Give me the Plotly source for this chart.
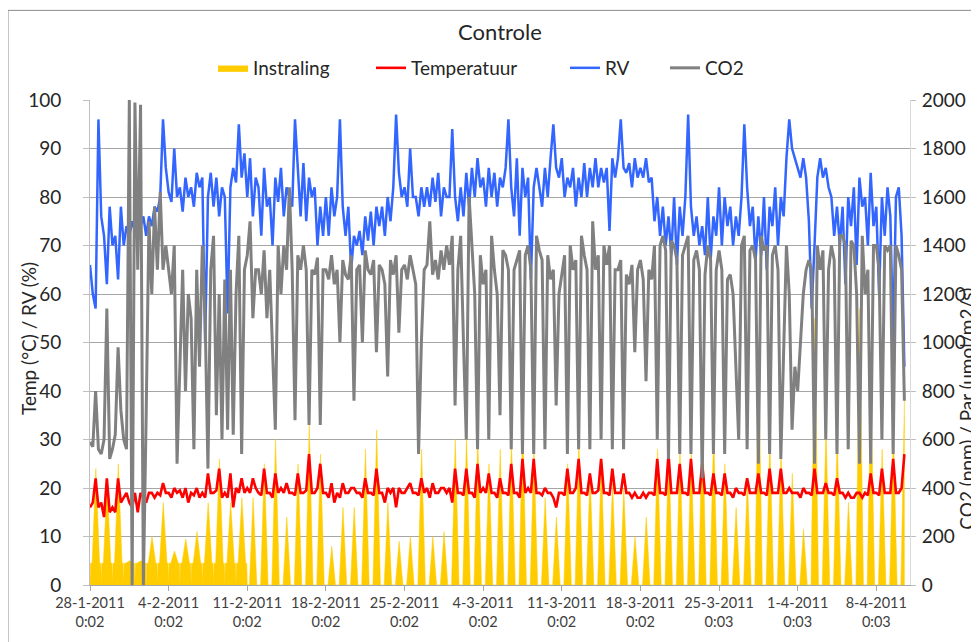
import pandas as pd
import plotly.graph_objects as go

# sampling: 4 readings per day (0:02, 6:02, 12:02, 18:02), last day stops at noon
start = pd.Timestamp("2011-01-28 00:02")
n_days = 73

# RV (%) one row per week, 4 values per day
rv = [
    66, 60, 57, 96,  76, 72, 62, 78,  70, 72, 63, 78,  70, 74, 72, 75,  73, 71, 74, 76,  72, 76, 74, 78,  77, 80, 96, 86,
    81, 79, 90, 80,  82, 77, 84, 80,  82, 78, 85, 82,  84, 50, 80, 85,  78, 84, 76, 82,  80, 56, 82, 86,  83, 95, 84, 89,
    80, 88, 76, 84,  82, 72, 86, 78,  80, 70, 84, 79,  86, 76, 82, 80,  78, 96, 85, 76,  87, 75, 84, 80,  82, 70, 78, 72,
    80, 72, 82, 76,  80, 96, 78, 72,  78, 65, 72, 70,  73, 68, 76, 71,  77, 70, 78, 74,  78, 72, 80, 75,  82, 97, 85, 80,
    82, 78, 90, 80,  80, 76, 82, 78,  82, 78, 84, 79,  85, 76, 82, 80,  80, 94, 80, 75,  82, 76, 85, 78,  86, 80, 88, 82,
    84, 78, 86, 80,  85, 78, 84, 82,  86, 96, 82, 76,  88, 72, 86, 80,  84, 63, 82, 86,  82, 78, 86, 80,  88, 95, 86, 84,
    88, 80, 84, 82,  86, 78, 84, 80,  87, 80, 86, 82,  88, 82, 86, 83,  86, 73, 88, 84,  88, 96, 86, 85,  87, 82, 88, 84,
    86, 84, 88, 83,  84, 75, 80, 72,  78, 70, 76, 68,  80, 66, 78, 72,  80, 97, 78, 72,  76, 70, 74, 68,  80, 67, 76, 72,
    82, 70, 80, 74,  78, 70, 76, 72,  80, 95, 82, 74,  78, 67, 76, 68,  80, 65, 78, 74,  82, 70, 80, 76,  88, 96, 90, 88,
    86, 84, 88, 84,  75, 57, 70, 84,  88, 84, 86, 82,  80, 72, 78, 70,  78, 62, 80, 74,  82, 66, 84, 78,  80, 70, 85, 74,
    78, 60, 80, 72,  82, 76, 50, 80,  82, 72, 45,
]

# Temperatuur (°C)
temp = [
    16, 17, 22, 16,  17, 14, 22, 15,  16, 15, 22, 17,  18, 19, 17, 16,  19, 15, 19, 18,  17, 19, 19, 18,  19, 18.5, 21, 19,
    19, 18, 20, 19,  19.5, 18, 20, 17,  19, 18.5, 20, 18,  19, 18, 23, 19,  19, 19.5, 24, 18,  19, 18, 23, 16,  20, 19, 22, 19,
    20, 19, 22, 20,  19, 18.5, 24, 19,  19, 18, 23, 19,  20, 19, 21, 19,  19, 18.5, 23, 19,  19, 19.5, 27, 19,  19, 20, 25, 19,
    19, 18, 21, 17,  19, 18, 21, 19,  19, 20, 20, 19,  19, 18, 22, 19,  19, 18.5, 24, 19,  19, 17, 20, 19,  20, 16, 20, 19,
    19, 20, 21, 19,  19, 18.5, 22, 19,  20, 18, 21, 19,  19, 20, 20, 19,  20, 17, 24, 19,  19, 18.5, 24, 19,  19, 18, 25, 19,
    20, 19, 23, 19,  19, 18, 22, 19,  19, 18.5, 25, 19,  19, 18, 26, 19,  20, 19, 26, 19,  19, 18.5, 20, 19,  19, 18, 16, 19,
    19, 18.5, 24, 19,  19, 20, 26, 19,  19, 18.5, 23, 19,  19, 19.5, 26, 19,  19, 18.5, 24, 19,  19, 19, 23, 19,  19, 18, 19, 18,
    18, 19, 18, 19,  19, 18.5, 26, 19,  19, 18.5, 27, 19,  19, 19, 25, 19,  19, 18.5, 26, 19,  19, 19, 25, 19,  19, 18.5, 23, 19,
    19, 18.5, 23, 19,  19, 18, 20, 19,  19, 18.5, 22, 19,  19, 19, 23, 19,  19, 18.5, 24, 19,  19, 19, 24, 19,  19, 20, 19, 19,
    19, 18, 20, 19,  19, 18.5, 24, 19,  19, 19, 21, 19,  19, 18.5, 22, 19,  19, 18, 19, 18,  18, 19, 19, 18,  19, 18.5, 23, 19,
    19, 18.5, 24, 19,  19, 19, 26, 19,  19, 20, 27,
]

# CO2 (ppm)
co2 = [
    590, 570, 800, 560,  540, 600, 1140, 520,  560, 620, 980, 720,  600, 560, 2000, 0,  1990, 1300, 1980, 0,  700, 1500, 1200, 1560,  1300, 1620, 1300, 1400,
    1300, 1200, 1400, 500,  900, 1300, 800, 1200,  1100, 560, 1300, 900,  1400, 1100, 480, 1300,  1440, 700, 1200, 600,  1260, 640, 1300, 620,  1200, 1440, 540, 1300,
    1360, 1500, 1100, 1300,  1300, 1200, 1380, 1100,  1300, 1000, 640, 1400,  1200, 1400, 1300, 1640,  1300, 680, 1360, 1300,  1400, 1300, 660, 1300,  1280, 1350, 660, 1300,
    1300, 1260, 1360, 1240,  1300, 1000, 1340, 1280,  1260, 1360, 760, 1300,  1320, 1000, 1380, 1300,  1280, 1340, 960, 1320,  1300, 1240, 860, 1340,  1280, 1360, 1040, 1300,
    1320, 1260, 1360, 1300,  1240, 540, 1000, 1300,  1320, 1500, 1280, 1340,  1260, 1380, 1300, 1400,  1320, 1440, 740, 1300,  1440, 1000, 600, 1600,  1400, 1200, 560, 1360,
    1240, 1300, 600, 1440,  1300, 1200, 700, 1380,  1360, 1300, 560, 1300,  1340, 1380, 540, 1360,  1400, 1300, 540, 1440,  1380, 1340, 560, 1360,  1260, 1300, 740, 1200,
    1280, 1360, 540, 1400,  1300, 1340, 560, 1440,  1360, 1300, 560, 1500,  1300, 1360, 600, 1400,  1320, 1400, 560, 1300,  1300, 1340, 560, 1280,  1240, 1320, 960, 1300,
    1340, 1260, 840, 1300,  1260, 1400, 600, 1400,  1440, 1380, 520, 1420,  1400, 1340, 540, 1360,  1400, 1440, 540, 1340,  1380, 1300, 440, 1280,  1400, 1340, 540, 1300,
    1380, 1300, 540, 1260,  1280, 1200, 900, 600,  1400, 1440, 560, 1380,  1400, 1340, 500, 1440,  1380, 1400, 540, 1360,  1400, 1300, 520, 1000,  1400, 1200, 640, 900,
    800, 1000, 1200, 1300,  1340, 1300, 500, 1400,  1300, 1380, 600, 1300,  1400, 1340, 540, 1440,  1440, 1400, 560, 1420,  1400, 1200, 500, 1440,  1200, 1300, 500, 1400,
    1400, 1300, 600, 1400,  1380, 1400, 540, 1400,  1360, 1300, 760,
]

# Instraling (umol/m2/s): daily midday peak and assimilation-lamp level
sun_peak = [
    480, 420, 500, 100, 100, 200, 340,  140, 190, 220, 340, 520, 340, 360,
    360, 500, 600, 280, 500, 660, 540,  160, 320, 320, 560, 640, 340, 180,
    200, 560, 200, 220, 600, 620, 620,  500, 560, 600, 680, 560, 360, 280,
    500, 600, 460, 520, 420, 400, 200,  280, 560, 580, 560, 560, 720, 640,
    500, 320, 440, 960, 600, 560, 460,  230, 1100, 660, 620, 340, 1140, 820,
    560, 640, 800,
]
lamp = [90] * 14 + [0] * 59

tick_text = [
    "28-1-2011<br>0:02", "4-2-2011<br>0:02", "11-2-2011<br>0:02", "18-2-2011<br>0:02",
    "25-2-2011<br>0:02", "4-3-2011<br>0:02", "11-3-2011<br>0:02", "18-3-2011<br>0:02",
    "25-3-2011<br>0:03", "1-4-2011<br>0:03", "8-4-2011<br>0:03",
]
tick_vals = [start + pd.Timedelta(days=7 * i) for i in range(len(tick_text))]

line_t = [start + pd.Timedelta(days=d, hours=h) for d in range(n_days) for h in (0, 6, 12, 18)][:len(rv)]

# lamp on through the night, sun from ~4:30 to ~20:30 with the peak at midday
rad_t, rad_v = [], []
for d in range(n_days):
    for h, v in ((0, 0), (1, lamp[d]), (4.5, lamp[d]), (12.5, sun_peak[d]), (20.5, lamp[d]), (23, lamp[d])):
        t = start + pd.Timedelta(days=d, hours=h)
        if t <= line_t[-1] + pd.Timedelta(hours=0.5):
            rad_t.append(t)
            rad_v.append(v)

FONT = "Lato"
TXT = "#404040"
DARK = "#262626"

# page has an 8px body margin, so the figure is 8px smaller than the window
W, H = 971, 634

fig = go.Figure()
fig.add_trace(go.Scatter(x=rad_t, y=rad_v, name="Instraling", mode="lines", fill="tozeroy",
                         fillcolor="#FFCC00", line=dict(color="#FFCC00", width=0.5),
                         yaxis="y", legend="legend"))
fig.add_trace(go.Scatter(x=line_t, y=temp, name="Temperatuur", mode="lines",
                         line=dict(color="#FF0000", width=2.6), yaxis="y2", legend="legend2"))
fig.add_trace(go.Scatter(x=line_t, y=rv, name="RV", mode="lines",
                         line=dict(color="#3366FF", width=2.5), yaxis="y2", legend="legend3"))
fig.add_trace(go.Scatter(x=line_t, y=co2, name="CO2", mode="lines",
                         line=dict(color="#808080", width=3), yaxis="y3", legend="legend4"))

leg = dict(orientation="h", y=1.066, yanchor="middle", xanchor="left",
           bgcolor="rgba(0,0,0,0)", font=dict(family=FONT, size=19, color=DARK))

fig.update_layout(
    width=W, height=H,
    margin=dict(l=82, r=69, t=92, b=55),
    paper_bgcolor="white", plot_bgcolor="white",
    font=dict(family=FONT, color=TXT),
    title=dict(text="Controle", x=0.5, xref="paper", y=1 - 24 / H, yanchor="middle",
               font=dict(family=FONT, size=22, color=DARK)),
    legend=dict(leg, x=(213 - 90) / 820),
    legend2=dict(leg, x=(371 - 90) / 820),
    legend3=dict(leg, x=(565 - 90) / 820),
    legend4=dict(leg, x=(665 - 90) / 820),
    xaxis=dict(type="date", range=[start, start + pd.Timedelta(days=n_days)],
               tickvals=tick_vals, ticktext=tick_text, ticks="outside", ticklen=5,
               tickcolor="#a6a6a6", showgrid=False, showline=True, linecolor="#a6a6a6",
               tickfont=dict(family=FONT, size=14.5, color=TXT)),
    yaxis=dict(side="right", range=[0, 2000], dtick=200, showgrid=True, gridcolor="#a6a6a6",
               zeroline=False, ticks="outside", ticklen=5, tickcolor="#bfbfbf",
               showline=True, linecolor="#d9d9d9", ticklabelstandoff=2,
               tickfont=dict(family=FONT, size=19, color=DARK)),
    yaxis2=dict(overlaying="y", side="left", range=[0, 100], dtick=10, showgrid=False,
                zeroline=False, ticks="outside", ticklen=6, tickcolor="#bfbfbf",
                showline=True, linecolor="#bfbfbf", ticklabelstandoff=18,
                tickfont=dict(family=FONT, size=19, color=DARK)),
    yaxis3=dict(overlaying="y", side="right", range=[0, 2000], visible=False),
    showlegend=True,
    annotations=[
        dict(text="Temp (°C) / RV (%)", xref="paper", yref="paper",
             x=(28 - 90) / 820, y=(587 - 340) / 487, textangle=-90, showarrow=False,
             xanchor="center", yanchor="middle", font=dict(family=FONT, size=19, color=DARK)),
        dict(text="CO2 (ppm) / Par (umol/m2/s)", xref="paper", yref="paper",
             x=(967 - 90) / 820, y=(587 - 410) / 487, textangle=-90, showarrow=False,
             xanchor="center", yanchor="middle", font=dict(family=FONT, size=19, color=DARK)),
    ],
    shapes=[dict(type="rect", xref="paper", yref="paper", x0=(8 - 90) / 820, x1=1.2,
                 y0=-0.3, y1=(587 - 10) / 487, line=dict(color="#8c8c8c", width=1))],
)

fig.write_html("out.html")
